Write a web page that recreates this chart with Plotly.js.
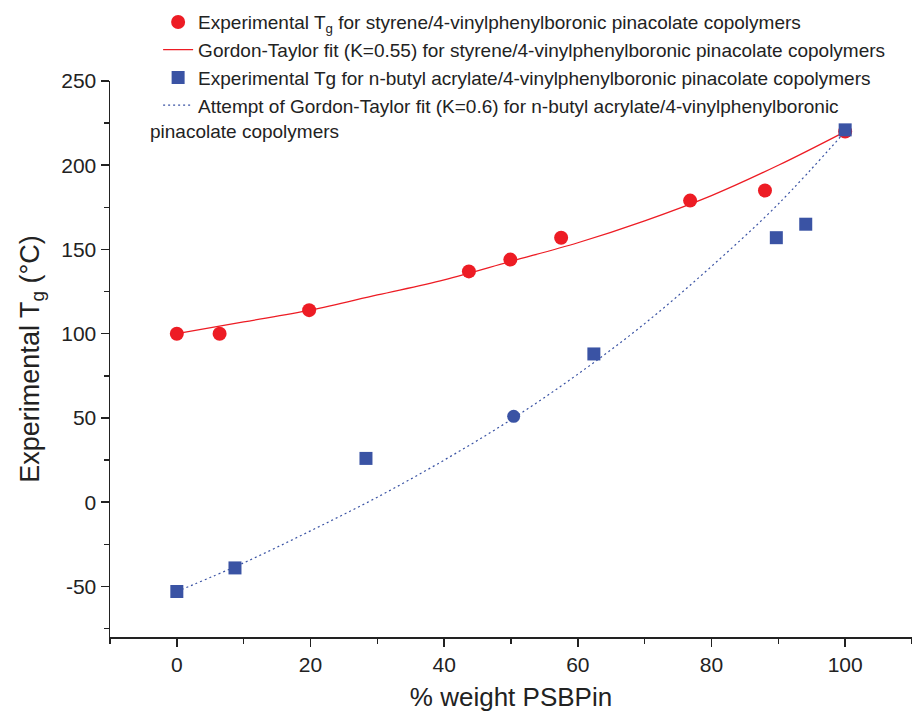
<!DOCTYPE html>
<html>
<head>
<meta charset="utf-8">
<script src="https://cdn.plot.ly/plotly-3.0.1.min.js"></script>
<style>html,body{margin:0;padding:0;background:#fff;}#chart{width:912px;height:713px;}</style>
</head>
<body>
<div id="chart"></div>
<script>
// Experimental data: styrene / 4-vinylphenylboronic pinacolate copolymers
var styX = [0, 6.4, 19.8, 43.7, 49.9, 57.5, 76.8, 88.0, 100];
var styY = [100, 100, 114, 137, 144, 157, 179, 185, 220];

// Gordon-Taylor fit (K=0.55)
var gtStyX = [0, 10, 20, 30, 40, 50, 60, 70, 80, 90, 100];
var gtStyY = [100, 107, 114, 123, 132, 143, 154, 167, 182, 200, 220];

// Experimental data: n-butyl acrylate / 4-vinylphenylboronic pinacolate copolymers
var baX = [0, 8.7, 28.3, 50.4, 62.4, 89.7, 94.1, 100];
var baY = [-53, -39, 26, 51, 88, 157, 165, 221];
var baSymbols = ['square', 'square', 'square', 'circle', 'square', 'square', 'square', 'square'];

// Attempt of Gordon-Taylor fit (K=0.6)
var gtBaX = [0, 10, 20, 30, 40, 50, 60, 70, 80, 90, 100];
var gtBaY = [-53, -36, -17, 3, 25, 49, 76, 106, 140, 177, 220];

// Tick labels
var xTickVals = [0, 20, 40, 60, 80, 100];
var xTickText = ['0', '20', '40', '60', '80', '100'];
var yTickVals = [-50, 0, 50, 100, 150, 200, 250];
var yTickText = ['-50', '0', '50', '100', '150', '200', '250'];
var xMinor = [-10, 10, 30, 50, 70, 90, 110];
var yMinor = [-75, -25, 25, 75, 125, 175, 225];

var xTitle = '% weight PSBPin';
var yTitle = 'Experimental T<sub>g</sub> (°C)';
var names = [
  'Experimental T<sub>g</sub> for styrene/4-vinylphenylboronic pinacolate copolymers',
  'Gordon-Taylor fit (K=0.55) for styrene/4-vinylphenylboronic pinacolate copolymers',
  'Experimental Tg for n-butyl acrylate/4-vinylphenylboronic pinacolate copolymers',
  'Attempt of Gordon-Taylor fit (K=0.6) for n-butyl acrylate/4-vinylphenylboronic'
];
var wrapText = 'pinacolate copolymers';

var red = '#ed1c24', blue = '#3a53a4';
var fnt = 'Arial, "Liberation Sans", sans-serif';
var ink = '#222';

var traces = [
  {x: gtStyX, y: gtStyY, mode: 'lines', name: names[1], legendrank: 2,
   line: {color: red, width: 1.3, shape: 'spline'}},
  {x: styX, y: styY, mode: 'markers', name: names[0], legendrank: 1,
   marker: {color: red, size: 14, symbol: 'circle'}},
  {x: gtBaX, y: gtBaY, mode: 'lines', name: names[3], legendrank: 4,
   line: {color: blue, width: 1.2, dash: '2px,3px', shape: 'spline'}},
  {x: baX, y: baY, mode: 'markers', name: names[2], legendrank: 3,
   marker: {color: blue, size: 13, symbol: baSymbols}}
];

var layout = {
  width: 912, height: 713,
  margin: {l: 110, r: 0, t: 81, b: 76},
  paper_bgcolor: '#fff', plot_bgcolor: '#fff',
  font: {family: fnt, color: ink},
  showlegend: true,
  legend: {x: 0.06, y: 1.14, xanchor: 'left', yanchor: 'top',
           bgcolor: 'rgba(0,0,0,0)', font: {size: 19, family: fnt, color: ink},
           tracegroupgap: 0, traceorder: 'normal'},
  xaxis: {range: [-10, 110], showgrid: false, zeroline: false,
          showline: true, linecolor: ink, linewidth: 1.5,
          ticks: 'outside', ticklen: 8, tickwidth: 1.5, tickcolor: ink,
          tickmode: 'array', tickvals: xTickVals, ticktext: xTickText,
          minor: {tickvals: xMinor, ticks: 'outside', ticklen: 5, tickwidth: 1.5, tickcolor: ink},
          tickfont: {size: 21, color: ink},
          title: {text: xTitle, font: {size: 26, color: ink}, standoff: 13}},
  yaxis: {range: [-80, 250], showgrid: false, zeroline: false,
          showline: true, linecolor: ink, linewidth: 1.5,
          ticks: 'outside', ticklen: 8, tickwidth: 1.5, tickcolor: ink,
          tickmode: 'array', tickvals: yTickVals, ticktext: yTickText,
          minor: {tickvals: yMinor, ticks: 'outside', ticklen: 5, tickwidth: 1.5, tickcolor: ink},
          tickfont: {size: 21, color: ink},
          title: {text: yTitle, font: {size: 27, color: ink}, standoff: 14}},
  annotations: [
    {text: wrapText, xref: 'paper', yref: 'paper', x: 0.048, y: 0.909, xanchor: 'left', yanchor: 'middle',
     showarrow: false, font: {size: 19, family: fnt, color: ink}}
  ]
};

Plotly.newPlot('chart', traces, layout, {displayModeBar: false, staticPlot: true});
</script>
</body>
</html>
